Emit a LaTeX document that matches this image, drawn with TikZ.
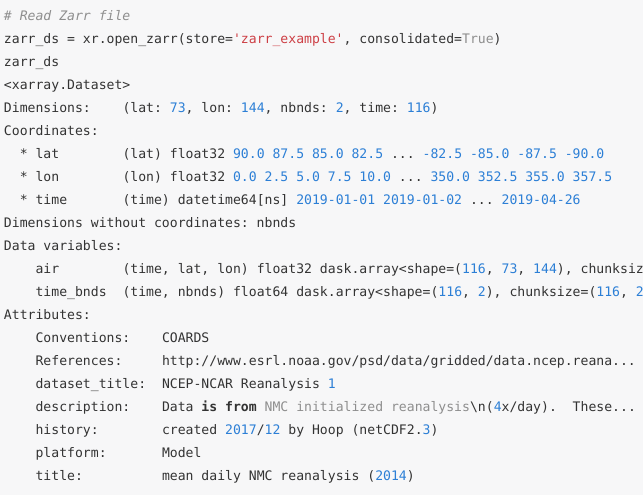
\documentclass[tikz,border=0pt]{standalone}
\usepackage{fontspec}
\setmonofont{DejaVu Sans Mono}
\definecolor{pagebg}{HTML}{F7F7F8}
\definecolor{codefg}{HTML}{333333}
\definecolor{numblue}{HTML}{2C7FD6}
\definecolor{strred}{HTML}{CD3F45}
\definecolor{softgray}{HTML}{8E8E8E}
\newcommand{\nb}[1]{\textcolor{numblue}{#1}}
\newcommand{\strc}[1]{\textcolor{strred}{#1}}
\newcommand{\gr}[1]{\textcolor{softgray}{#1}}
\newcommand{\cmt}[1]{\textcolor{softgray}{\itshape #1}}
\def\cw{7.9}
\tikzset{
  codeline/.style={anchor=base west, inner sep=0pt, outer sep=0pt, text=codefg,
    font=\ttfamily\fontsize{13.12}{23}\selectfont}
}
\begin{document}
\begin{tikzpicture}[x=1pt,y=-1pt]
  \useasboundingbox (0,0) rectangle (643,495);
  \fill[pagebg] (0,0) rectangle (643,495);
  \clip (0,0) rectangle (643,495);
  % input cell
  \node[codeline] (comment) at (4,20.3) {\cmt{\# Read Zarr file}};
  \node[codeline] (cmd) at (4,43.3) {zarr\_ds = xr.open\_zarr(store=\strc{'zarr\_example'}, consolidated=\gr{True})};
  \node[codeline] (dsname) at (4,66.3) {zarr\_ds};
  % dataset repr
  \node[codeline] (reprhead) at (4,89.3) {<xarray.Dataset>};
  \node[codeline] (dims) at (4,112.3) {Dimensions:};
  \node[codeline] (dims-val) at ({4+15*\cw},112.3) {(lat: \nb{73}, lon: \nb{144}, nbnds: \nb{2}, time: \nb{116})};
  \node[codeline] (coords) at (4,135.3) {Coordinates:};
  \node[codeline] (lat) at ({4+2*\cw},158.3) {* lat};
  \node[codeline] (lat-val) at ({4+15*\cw},158.3) {(lat) float32 \nb{90.0 87.5 85.0 82.5} ... \nb{-82.5 -85.0 -87.5 -90.0}};
  \node[codeline] (lon) at ({4+2*\cw},181.3) {* lon};
  \node[codeline] (lon-val) at ({4+15*\cw},181.3) {(lon) float32 \nb{0.0 2.5 5.0 7.5 10.0} ... \nb{350.0 352.5 355.0 357.5}};
  \node[codeline] (time) at ({4+2*\cw},204.3) {* time};
  \node[codeline] (time-val) at ({4+15*\cw},204.3) {(time) datetime64[ns] \nb{2019-01-01 2019-01-02} ... \nb{2019-04-26}};
  \node[codeline] (nocoords) at (4,227.3) {Dimensions without coordinates: nbnds};
  \node[codeline] (datavars) at (4,250.3) {Data variables:};
  \node[codeline] (air) at ({4+4*\cw},273.3) {air};
  \node[codeline] (air-val) at ({4+15*\cw},273.3) {(time, lat, lon) float32 dask.array<shape=(\nb{116}, \nb{73}, \nb{144}), chunksize=(\nb{116}, \nb{73}, \nb{144})>};
  \node[codeline] (bnds) at ({4+4*\cw},296.3) {time\_bnds};
  \node[codeline] (bnds-val) at ({4+15*\cw},296.3) {(time, nbnds) float64 dask.array<shape=(\nb{116}, \nb{2}), chunksize=(\nb{116}, \nb{2})>};
  % attributes
  \node[codeline] (attrs) at (4,319.3) {Attributes:};
  \node[codeline] (conv) at ({4+4*\cw},342.3) {Conventions:};
  \node[codeline] (conv-val) at ({4+20*\cw},342.3) {COARDS};
  \node[codeline] (refs) at ({4+4*\cw},365.3) {References:};
  \node[codeline] (refs-val) at ({4+20*\cw},365.3) {http://www.esrl.noaa.gov/psd/data/gridded/data.ncep.reana...};
  \node[codeline] (dstitle) at ({4+4*\cw},388.3) {dataset\_title:};
  \node[codeline] (dstitle-val) at ({4+20*\cw},388.3) {NCEP-NCAR Reanalysis \nb{1}};
  \node[codeline] (desc) at ({4+4*\cw},411.3) {description:};
  \node[codeline] (desc-val) at ({4+20*\cw},411.3) {Data \textbf{is from} \gr{NMC initialized reanalysis}\textbackslash n(\nb{4}x/day).~ These...};
  \node[codeline] (hist) at ({4+4*\cw},434.3) {history:};
  \node[codeline] (hist-val) at ({4+20*\cw},434.3) {created \nb{2017}/\nb{12} by Hoop (netCDF2.\nb{3})};
  \node[codeline] (platf) at ({4+4*\cw},457.3) {platform:};
  \node[codeline] (platf-val) at ({4+20*\cw},457.3) {Model};
  \node[codeline] (title) at ({4+4*\cw},480.3) {title:};
  \node[codeline] (title-val) at ({4+20*\cw},480.3) {mean daily NMC reanalysis (\nb{2014})};
\end{tikzpicture}
\end{document}
